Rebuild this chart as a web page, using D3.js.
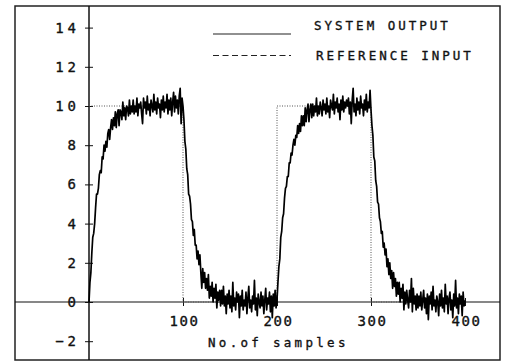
<!DOCTYPE html>
<html>
<head>
<meta charset="utf-8">
<script src="https://cdn.jsdelivr.net/npm/d3@7"></script>
<style>
  body { margin: 0; background: #fff; }
  svg text { font-family: 'DejaVu Sans Mono', monospace; fill: #111; stroke: #111; stroke-width: 0.35px; }
</style>
</head>
<body>
<div id="chart"></div>
<script>
// values
const yTicks = [-2, 0, 2, 4, 6, 8, 10, 12, 14];
const xTicks = [100, 200, 300, 400];
const legendLabels = ['SYSTEM OUTPUT', 'REFERENCE INPUT'];
const xLabel = 'No.of samples';

// reference input (square wave), sample -> value
const refSamples = [0, 100, 100, 200, 200, 300, 300, 400];
const refValues = [10, 10, 0, 0, 10, 10, 0, 0];

// system output, one value per sample 0..400
const systemOutput = [
  0.0, 1.0, 1.5, 2.5, 3.3, 3.5, 4.0, 4.8, 5.5, 5.5,
  5.8, 6.5, 6.7, 6.6, 7.4, 7.3, 8.0, 7.7, 8.2, 7.9,
  8.6, 8.8, 8.3, 8.9, 9.3, 8.8, 9.4, 9.0, 9.7, 8.9,
  9.6, 9.8, 9.0, 9.8, 9.7, 9.3, 10.2, 9.5, 9.9, 9.3,
  10.0, 9.9, 9.5, 10.3, 9.6, 10.0, 9.7, 10.3, 9.6, 10.0,
  9.7, 10.4, 9.5, 10.1, 9.9, 10.2, 9.6, 9.1, 10.4, 9.9,
  10.2, 9.6, 10.5, 9.8, 10.1, 9.5, 10.3, 10.0, 9.7, 10.6,
  9.8, 10.2, 9.6, 10.4, 9.9, 10.1, 9.4, 10.3, 9.8, 10.5,
  9.7, 10.2, 9.9, 10.6, 9.6, 10.3, 9.8, 10.4, 9.5, 10.2,
  10.7, 9.7, 10.5, 9.9, 10.3, 9.6, 10.5, 10.9, 9.1, 10.4,
  10.0,
  9.3, 8.2, 7.8, 6.8, 6.5, 5.5, 5.4, 5.0, 4.2, 4.1,
  3.4, 3.7, 2.9, 2.9, 2.2, 2.6, 1.9, 2.4, 1.5, 0.7,
  1.7, 1.0, 1.5, 0.7, 1.2, 0.6, 1.4, 0.2, 0.8, 0.3,
  1.0, 0.0, 0.7, 0.2, 0.9, -0.3, 0.5, 0.1, 0.6, -0.2,
  0.6, -0.1, 0.8, -0.2, 0.3, -0.6, 0.4, -0.1, 0.6, -0.3,
  0.3, -0.5, 1.0, -0.2, 0.2, -0.4, 0.5, 0.0, 0.4, -0.8,
  0.3, -0.2, 0.6, -0.4, 0.1, -0.2, 0.5, -0.6, 0.2, 0.8,
  -0.3, 0.1, -0.5, 0.3, -0.1, 1.1, -0.4, 0.2, -0.7, 0.4,
  0.0, -0.3, 0.5, -0.2, 0.3, -0.6, 0.1, 0.7, -0.4, 0.2,
  -0.1, 0.5, -0.5, 0.3, -0.8, 0.4, -0.2, 0.6, -0.3, 0.1,
  1.0, 1.8, 2.2, 3.3, 3.6, 4.3, 4.5, 5.3, 5.8, 5.9,
  6.4, 6.4, 7.1, 7.1, 7.6, 7.5, 8.0, 8.3, 8.0, 8.5,
  8.4, 9.0, 8.6, 9.1, 8.7, 9.5, 9.0, 9.5, 9.0, 9.9,
  9.2, 9.8, 10.1, 9.2, 9.8, 10.1, 9.4, 10.1, 9.5, 10.0,
  9.7, 10.4, 9.5, 10.0, 9.6, 10.2, 9.9, 9.5, 10.3, 9.8,
  10.1, 9.6, 10.4, 9.7, 10.0, 9.4, 10.3, 10.0, 9.8, 10.6,
  9.6, 10.2, 9.9, 10.4, 9.7, 10.1, 9.3, 10.3, 9.8, 10.5,
  9.7, 10.2, 9.9, 10.3, 10.0, 10.4, 9.6, 10.2, 9.1, 10.3,
  10.9, 9.7, 10.1, 9.5, 10.4, 9.8, 10.2, 9.6, 10.5, 9.9,
  10.1, 9.5, 10.3, 9.8, 10.6, 9.7, 10.2, 9.9, 10.8, 9.8,
  9.0, 8.5, 7.4, 7.2, 6.2, 5.9, 5.1, 5.0, 4.3, 4.1,
  3.5, 3.6, 2.8, 3.0, 2.4, 2.7, 1.8, 2.2, 1.4, 2.0,
  1.2, 1.6, 0.7, 1.5, 0.8, 1.2, 0.3, 1.0, 0.4, 1.0,
  0.0, 0.7, 0.2, 0.9, -0.4, 0.5, -0.1, 0.6, 0.1, -0.3,
  0.6, 0.0, 1.2, -0.5, 0.7, -0.1, 0.3, -0.4, 0.4, -0.3,
  0.3, -0.2, 0.5, -0.4, 0.1, 0.6, -0.3, 0.2, -0.6, 0.4,
  -0.9, 0.3, -0.1, 0.5, -0.4, 0.8, -0.2, 0.1, -0.5, 0.3,
  0.0, -0.7, 0.4, -0.2, 0.6, -0.3, 0.2, -0.5, 0.9, -0.1,
  0.3, -0.6, 0.2, 0.5, -0.4, 0.1, -0.8, 0.4, -0.2, 1.1,
  -0.3, 0.2, -0.6, 0.4, -0.1, 0.3, -0.7, 0.5, -0.2, 0.1
];

const width = 505;
const height = 362;
const frame = { left: 15, top: 6, right: 500, bottom: 360 };

const svg = d3.select('#chart')
  .append('svg')
  .attr('width', width)
  .attr('height', height);

const x = d3.scaleLinear().domain([0, 400]).range([89, 465]);
const y = d3.scaleLinear().domain([-2, 14]).range([341.2, 27.6]);

// outer frame
svg.append('rect')
  .attr('x', frame.left)
  .attr('y', frame.top)
  .attr('width', frame.right - frame.left)
  .attr('height', frame.bottom - frame.top)
  .attr('fill', 'none')
  .attr('stroke', '#222')
  .attr('stroke-width', 1.5);

// axis lines run across the whole frame
svg.append('line')
  .attr('x1', x(0)).attr('x2', x(0))
  .attr('y1', frame.top).attr('y2', frame.bottom)
  .attr('stroke', '#111').attr('stroke-width', 1.5);

svg.append('line')
  .attr('x1', frame.left).attr('x2', frame.right)
  .attr('y1', y(0)).attr('y2', y(0))
  .attr('stroke', '#111').attr('stroke-width', 1.2);

// y axis ticks + labels
const yAxis = d3.axisLeft(y)
  .tickValues(yTicks)
  .tickSize(4)
  .tickPadding(5)
  .tickFormat(d3.format('d'));

svg.append('g')
  .attr('transform', `translate(${x(0)},0)`)
  .call(yAxis)
  .call(g => g.select('.domain').remove())
  .call(g => g.selectAll('.tick line').attr('x1', 4).attr('stroke', '#111'))
  .call(g => g.selectAll('.tick text')
    .attr('font-size', 14)
    .attr('font-family', 'DejaVu Sans Mono')
    .attr('letter-spacing', 4));

// x axis ticks + labels
const xAxis = d3.axisBottom(x)
  .tickValues(xTicks)
  .tickSize(4)
  .tickPadding(10)
  .tickFormat(d3.format('d'));

svg.append('g')
  .attr('transform', `translate(0,${y(0)})`)
  .call(xAxis)
  .call(g => g.select('.domain').remove())
  .call(g => g.selectAll('.tick line').attr('y1', -4).attr('stroke', '#111'))
  .call(g => g.selectAll('.tick text')
    .attr('font-size', 14)
    .attr('font-family', 'DejaVu Sans Mono')
    .attr('letter-spacing', 1.6)
    .attr('dx', 1));

svg.append('text')
  .attr('x', 208)
  .attr('y', 347)
  .attr('font-size', 12.5)
  .attr('letter-spacing', 3.3)
  .text(xLabel);

// reference input, dotted
const refLine = d3.line()
  .x((d, i) => x(refSamples[i]))
  .y(d => y(d));

svg.append('path')
  .datum(refValues)
  .attr('d', refLine)
  .attr('fill', 'none')
  .attr('stroke', '#555')
  .attr('stroke-width', 1)
  .attr('stroke-dasharray', '1,1.5');

// system output
const outLine = d3.line()
  .x((d, i) => x(i))
  .y(d => y(d));

svg.append('path')
  .datum(systemOutput)
  .attr('d', outLine)
  .attr('fill', 'none')
  .attr('stroke', '#000')
  .attr('stroke-width', 1.7)
  .attr('stroke-linejoin', 'round');

// legend
const legend = svg.append('g');
const legendRows = [
  { label: legendLabels[0], textX: 314, textY: 30, lineY: 34, dash: null },
  { label: legendLabels[1], textX: 316, textY: 60, lineY: 55.5, dash: '6,3.5' }
];

legendRows.forEach(r => {
  legend.append('line')
    .attr('x1', 213).attr('x2', 291)
    .attr('y1', r.lineY).attr('y2', r.lineY)
    .attr('stroke', '#222')
    .attr('stroke-width', 1.2)
    .attr('stroke-dasharray', r.dash);
  legend.append('text')
    .attr('x', r.textX)
    .attr('y', r.textY)
    .attr('font-size', 12.5)
    .attr('letter-spacing', 3)
    .text(r.label);
});
</script>
</body>
</html>
